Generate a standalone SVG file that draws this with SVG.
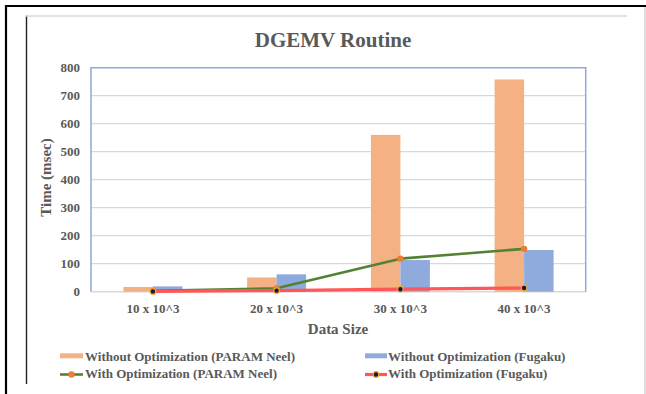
<svg xmlns="http://www.w3.org/2000/svg" width="646" height="394" viewBox="0 0 646 394">
<style>
text{font-family:"Liberation Serif","Times New Roman",serif;font-weight:bold;fill:#595959}
.tick{font-size:13px;text-anchor:end}
.xl{font-size:13px;text-anchor:middle}
.leg{font-size:13px}
.grid{stroke:#D9D9D9;stroke-width:1.3}
.ob{fill:#F4B183}
.bb{fill:#8FAADC}
.gl{fill:none;stroke:#548235;stroke-width:2.6;stroke-linejoin:round}
.rl{fill:none;stroke:#FF5757;stroke-width:3.2;stroke-linejoin:round}
.gm{fill:#ED7D31}
.rm{fill:#0D1B4C;stroke:#F5A623;stroke-width:1.2}
</style>
<rect width="646" height="394" fill="#ffffff"/>
<g id="frame">
<line x1="5" y1="6" x2="646" y2="6" stroke="#000" stroke-width="2.2"/>
<line x1="6" y1="5" x2="6" y2="394" stroke="#000" stroke-width="2.2"/>
<line x1="645" y1="7" x2="645" y2="394" stroke="#C8C8C8" stroke-width="1.2"/>
<line x1="26.5" y1="15.5" x2="26.5" y2="384" stroke="#222" stroke-width="1.4"/>
<line x1="26" y1="16" x2="627" y2="16" stroke="#D9D9D9" stroke-width="1.3"/>
</g>
<g id="title"><text x="333" y="47" font-size="21" text-anchor="middle">DGEMV Routine</text></g>
<g id="grid">
<line class="grid" x1="91" y1="95.7" x2="586" y2="95.7"/>
<line class="grid" x1="91" y1="123.7" x2="586" y2="123.7"/>
<line class="grid" x1="91" y1="151.7" x2="586" y2="151.7"/>
<line class="grid" x1="91" y1="179.7" x2="586" y2="179.7"/>
<line class="grid" x1="91" y1="207.7" x2="586" y2="207.7"/>
<line class="grid" x1="91" y1="235.7" x2="586" y2="235.7"/>
<line class="grid" x1="91" y1="263.7" x2="586" y2="263.7"/>
<line x1="91" y1="291.7" x2="586" y2="291.7" stroke="#D9D9D9" stroke-width="1.5"/>
</g>
<g id="y-axis">
<text class="tick" x="80" y="72.2">800</text>
<text class="tick" x="80" y="100.2">700</text>
<text class="tick" x="80" y="128.2">600</text>
<text class="tick" x="80" y="156.2">500</text>
<text class="tick" x="80" y="184.2">400</text>
<text class="tick" x="80" y="212.2">300</text>
<text class="tick" x="80" y="240.2">200</text>
<text class="tick" x="80" y="268.2">100</text>
<text class="tick" x="80" y="296.2">0</text>
<text x="51" y="177.5" font-size="15" text-anchor="middle" transform="rotate(-90 51 177.5)">Time (msec)</text>
</g>
<g id="bars-param">
<rect class="ob" x="123.4" y="286.94" width="29.5" height="4.76"/>
<rect class="ob" x="247.1" y="277.42" width="29.5" height="14.28"/>
<rect class="ob" x="370.9" y="134.9" width="29.5" height="156.8"/>
<rect class="ob" x="494.6" y="79.46" width="29.5" height="212.24"/>
</g>
<g id="bars-fugaku">
<rect class="bb" x="152.9" y="286.38" width="29.5" height="5.32"/>
<rect class="bb" x="276.6" y="274.34" width="29.5" height="17.36"/>
<rect class="bb" x="400.4" y="260.06" width="29.5" height="31.64"/>
<rect class="bb" x="524.1" y="249.98" width="29.5" height="41.72"/>
</g>
<g id="plot-border">
<polyline points="91,291.7 91,67.7 585.7,67.7 585.7,291.7" fill="none" stroke="#8EA9DB" stroke-width="1.5"/>
</g>
<g id="connectors">
<polyline class="gl" points="152.9,290.86 276.6,288.34 400.4,258.66 524.1,248.86"/>
<circle class="gm" cx="152.9" cy="290.86" r="3.2"/>
<circle class="gm" cx="276.6" cy="288.34" r="3.2"/>
<circle class="gm" cx="400.4" cy="258.66" r="3.2"/>
<circle class="gm" cx="524.1" cy="248.86" r="3.2"/>
<polyline class="rl" points="152.9,291.42 276.6,290.58 400.4,289.18 524.1,288.06"/>
<circle class="rm" cx="152.9" cy="291.42" r="2.8"/>
<circle class="rm" cx="276.6" cy="290.58" r="2.8"/>
<circle class="rm" cx="400.4" cy="289.18" r="2.8"/>
<circle class="rm" cx="524.1" cy="288.06" r="2.8"/>
</g>
<g id="x-axis">
<text class="xl" x="153" y="312.5">10 x 10^3</text>
<text class="xl" x="276.6" y="312.5">20 x 10^3</text>
<text class="xl" x="400.4" y="312.5">30 x 10^3</text>
<text class="xl" x="524.1" y="312.5">40 x 10^3</text>
<text x="338" y="333.5" font-size="15" text-anchor="middle">Data Size</text>
</g>
<g id="legend">
<rect class="ob" x="60" y="353.3" width="23" height="5"/>
<text class="leg" x="85" y="360.5">Without Optimization (PARAM Neel)</text>
<rect class="bb" x="365" y="353.3" width="22" height="5"/>
<text class="leg" x="388" y="360.5">Without Optimization (Fugaku)</text>
<line x1="60" y1="374.5" x2="83" y2="374.5" stroke="#548235" stroke-width="2.6"/>
<circle class="gm" cx="71.5" cy="374.5" r="3.2"/>
<text class="leg" x="85" y="378">With Optimization (PARAM Neel)</text>
<line x1="365" y1="374.5" x2="387" y2="374.5" stroke="#FF5757" stroke-width="3.2"/>
<circle class="rm" cx="376" cy="374.5" r="2.8"/>
<text class="leg" x="388" y="378">With Optimization (Fugaku)</text>
</g>
</svg>
